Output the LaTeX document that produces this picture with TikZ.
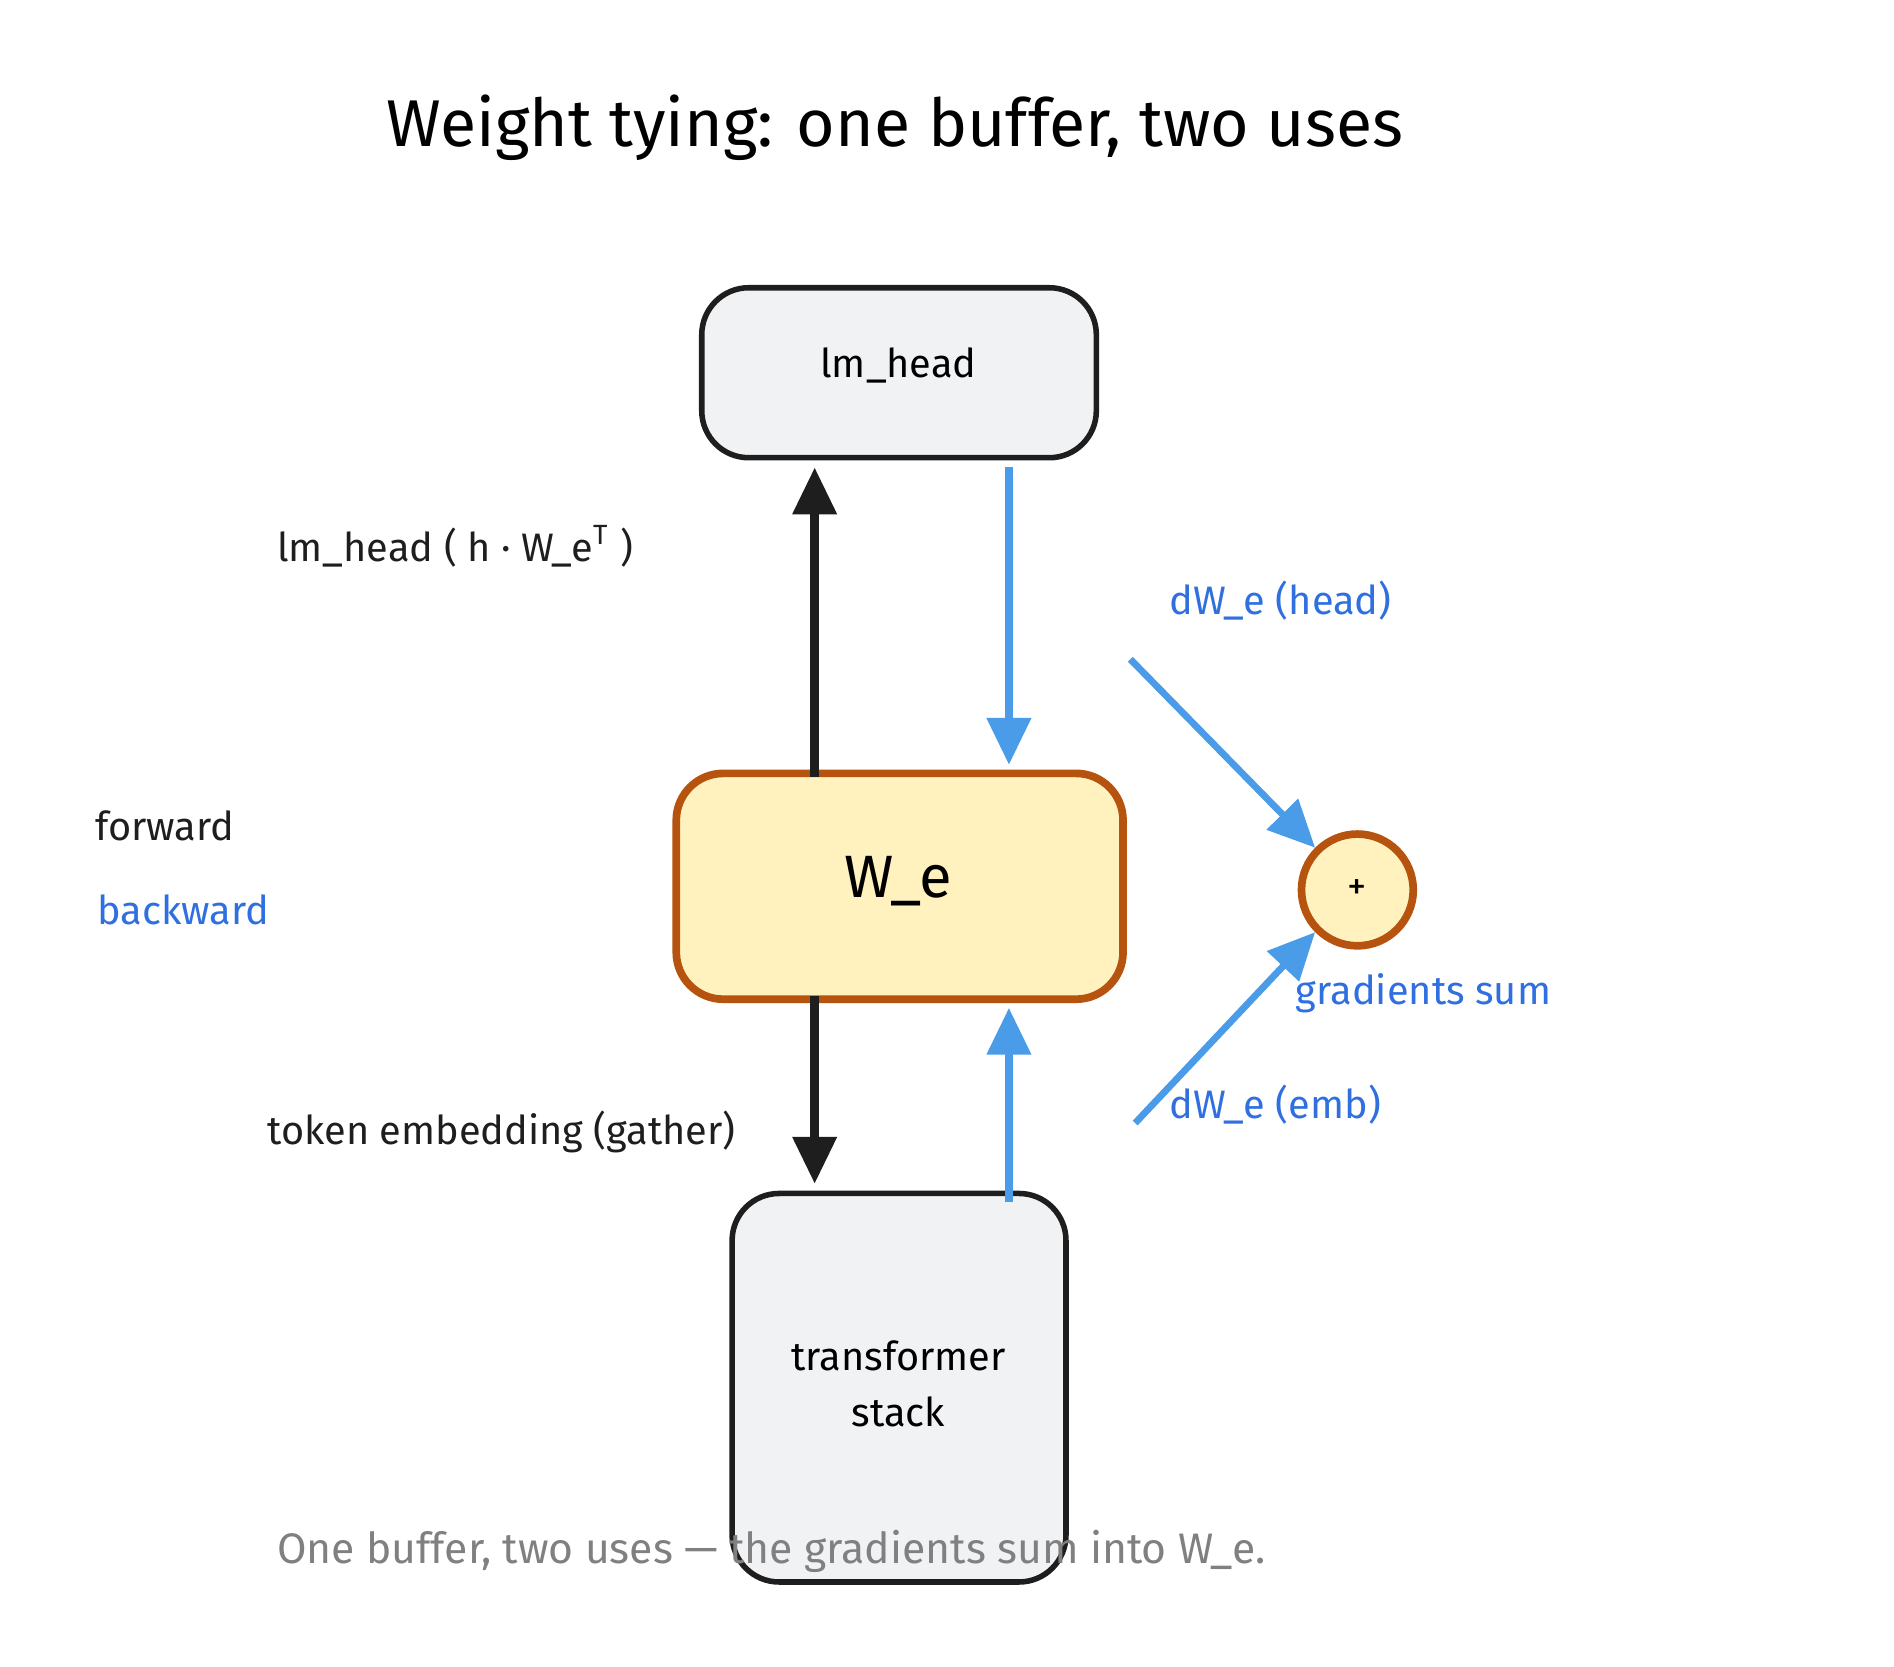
\documentclass[tikz,border=0pt]{standalone}
\usepackage{fontspec}
\setmainfont{Fira Sans}
\usetikzlibrary{arrows.meta}
\definecolor{boxgray}{HTML}{F1F2F4}
\definecolor{wfill}{HTML}{FFF2BF}
\definecolor{wdraw}{HTML}{B5530F}
\definecolor{gradline}{HTML}{4A9BE8}
\definecolor{gradtext}{HTML}{2F6FE0}
\definecolor{ink}{HTML}{1E1E1E}
\tikzset{
	block/.style={draw=ink, line width=1.3pt, fill=boxgray, rounded corners=11pt},
	fwd/.style={draw=ink, line width=2pt, -{Triangle[length=11pt,width=10pt]}},
	bwd/.style={draw=gradline, line width=2pt, -{Triangle[length=11pt,width=10pt]}},
	lbl/.style={anchor=west, font=\fontsize{9.3}{11}\selectfont, text=ink},
	glbl/.style={lbl, text=gradtext}
}
\begin{document}
\begin{tikzpicture}[x=0.01cm, y=-0.01cm]
	\useasboundingbox (0,0) rectangle (1560,1373);
	% Titel
	\node (title) at (737,105) {\fontsize{15.5}{19}\selectfont Weight tying: one buffer, two uses};
	% Bloecke
	\draw[block] (578,237) rectangle (903,377);
	\node (head) at (740,301) {\fontsize{9.3}{11}\selectfont lm\_head};
	\draw[block, fill=wfill, draw=wdraw, line width=1.8pt] (557,637) rectangle (925,823);
	\node (we) at (740,726) {\fontsize{14}{17}\selectfont W\_e};
	\draw[block] (603,983) rectangle (878,1303);
	\node[align=center, font=\fontsize{9.3}{13}\selectfont] (stack) at (740,1140) {transformer\\stack};
	\node[circle, draw=wdraw, line width=1.8pt, fill=wfill, minimum size=0.92cm] (sum) at (1118,733) {\fontsize{9}{11}\selectfont +};
	% Pfeile
	\coordinate (weTopL) at (671,640);
	\coordinate (headBotL) at (671,385);
	\coordinate (weBotL) at (671,820);
	\coordinate (stackTopL) at (671,975);
	\coordinate (headBotR) at (831,385);
	\coordinate (weTopR) at (831,630);
	\coordinate (stackTopR) at (831,990);
	\coordinate (weBotR) at (831,830);
	\coordinate (gHead) at (931,543);
	\coordinate (gEmb) at (935,925);
	\draw[fwd] (weTopL) -- (headBotL);
	\draw[fwd] (weBotL) -- (stackTopL);
	\draw[bwd] (headBotR) -- (weTopR);
	\draw[bwd] (stackTopR) -- (weBotR);
	\draw[bwd, line width=1.6pt] (gHead) -- (sum.north west);
	\draw[bwd, line width=1.6pt] (gEmb) -- (sum.south west);
	% Beschriftungen
	\node[lbl] (lfwd) at (216,450) {lm\_head ( h · W\_e\textsuperscript{T} )};
	\node[lbl] (lemb) at (208,932) {token embedding (gather)};
	\node[glbl] (lgh) at (951,495) {dW\_e (head)};
	\node[glbl] (lge) at (951,910) {dW\_e (emb)};
	\node[glbl] (lsum) at (1055,818) {gradients sum};
	\node[lbl] (kf) at (66,680) {forward};
	\node[glbl] (kb) at (68,749) {backward};
	\node[lbl, text=gray, font=\fontsize{10}{12}\selectfont] (cap) at (216,1278) {One buffer, two uses — the gradients sum into W\_e.};
\end{tikzpicture}
\end{document}
